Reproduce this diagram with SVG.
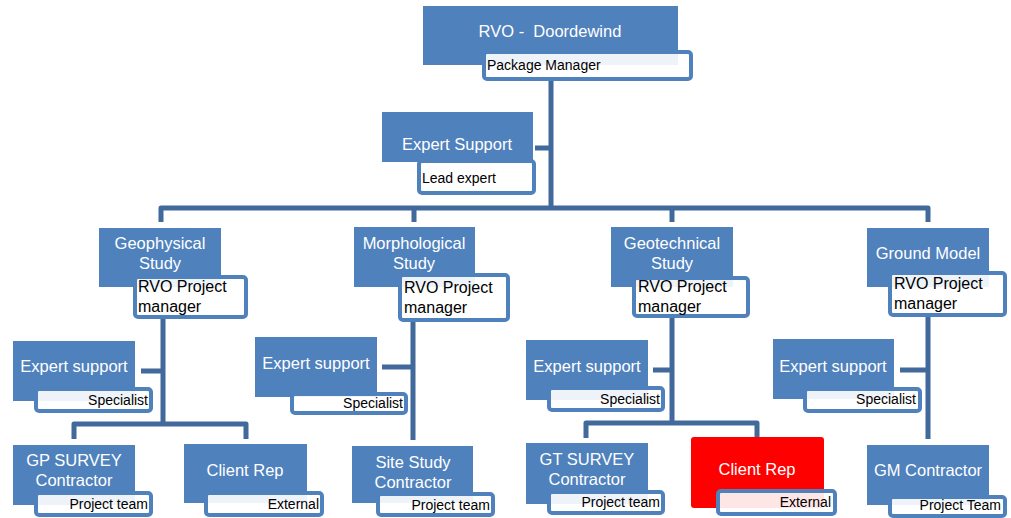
<svg xmlns="http://www.w3.org/2000/svg" width="1011" height="518" viewBox="0 0 1011 518">
<style>
.n{fill:#4F81BD}
.r{fill:#FF0000}
.s{fill:#FFFFFF;fill-opacity:0.9;stroke:#4F81BD;stroke-width:4}
.t{font-family:"Liberation Sans",Arial,sans-serif;font-size:16.5px;fill:#FFFFFF;text-anchor:middle}
.b{font-family:"Liberation Sans",Arial,sans-serif;font-size:16px;fill:#000000}
.m{font-family:"Liberation Sans",Arial,sans-serif;font-size:14px;fill:#000000}
.e{text-anchor:end}
.c{fill:none;stroke:#41699B;stroke-width:5;stroke-linejoin:round}
</style>
<rect width="1011" height="518" fill="#FFFFFF"/>
<g id="connectors">
<path class="c" d="M551 81V208M535 148H551M161 222V208H928V222M414 208V222M672 208V222"/>
<path class="c" d="M163 319V424M141 371H163M74 439V424H246V439"/>
<path class="c" d="M413 322V440M382 367H413"/>
<path class="c" d="M672 318V423M653 370H672M586 438V423H757V438"/>
<path class="c" d="M928 317V439M900 370H928"/>
</g>
<g id="top">
<rect class="n" x="423" y="6" width="255" height="59"/>
<text class="t" x="550" y="37" xml:space="preserve">RVO -  Doordewind</text>
<rect class="s" x="484" y="52" width="207" height="27" rx="3"/>
<text class="m" x="487" y="70">Package Manager</text>
</g>
<g id="expert-top">
<rect class="n" x="382" y="112" width="151" height="50"/>
<text class="t" x="457" y="150">Expert Support</text>
<rect class="s" x="419" y="161" width="115" height="32" rx="3"/>
<text class="m" x="422" y="183">Lead expert</text>
</g>
<g id="geophysical">
<rect class="n" x="99" y="228" width="122" height="59"/>
<text class="t" x="160" y="249">Geophysical</text>
<text class="t" x="160" y="269">Study</text>
<rect class="s" x="135" y="277" width="111" height="40" rx="3"/>
<text class="b" x="138" y="292">RVO Project</text>
<text class="b" x="138" y="312">manager</text>
</g>
<g id="morphological">
<rect class="n" x="354" y="227" width="121" height="60"/>
<text class="t" x="414" y="249">Morphological</text>
<text class="t" x="414" y="269">Study</text>
<rect class="s" x="400" y="275" width="108" height="45" rx="3"/>
<text class="b" x="404" y="293">RVO Project</text>
<text class="b" x="404" y="313">manager</text>
</g>
<g id="geotechnical">
<rect class="n" x="611" y="227" width="122" height="60"/>
<text class="t" x="672" y="249">Geotechnical</text>
<text class="t" x="672" y="269">Study</text>
<rect class="s" x="634" y="278" width="114" height="38" rx="3"/>
<text class="b" x="638" y="292">RVO Project</text>
<text class="b" x="638" y="312">manager</text>
</g>
<g id="groundmodel">
<rect class="n" x="867" y="228" width="122" height="59"/>
<text class="t" x="928" y="259">Ground Model</text>
<rect class="s" x="890" y="273" width="115" height="42" rx="3"/>
<text class="b" x="894" y="289">RVO Project</text>
<text class="b" x="894" y="309">manager</text>
</g>
<g id="geo-expert">
<rect class="n" x="13" y="341" width="122" height="60"/>
<text class="t" x="74" y="372">Expert support</text>
<rect class="s" x="36" y="389" width="115" height="22" rx="3"/>
<text class="m e" x="148" y="405">Specialist</text>
</g>
<g id="gp-survey">
<rect class="n" x="13" y="445" width="122" height="60"/>
<text class="t" x="74" y="466">GP SURVEY</text>
<text class="t" x="74" y="486">Contractor</text>
<rect class="s" x="36" y="493" width="115" height="22" rx="3"/>
<text class="m e" x="148" y="509">Project team</text>
</g>
<g id="geo-client">
<rect class="n" x="184" y="444" width="123" height="59"/>
<text class="t" x="245" y="476">Client Rep</text>
<rect class="s" x="206" y="493" width="116" height="22" rx="3"/>
<text class="m e" x="319" y="509">External</text>
</g>
<g id="morph-expert">
<rect class="n" x="255" y="337" width="122" height="60"/>
<text class="t" x="316" y="369">Expert support</text>
<rect class="s" x="292" y="394" width="114" height="19" rx="3"/>
<text class="m e" x="403" y="408">Specialist</text>
</g>
<g id="site-study">
<rect class="n" x="352" y="446" width="121" height="57"/>
<text class="t" x="413" y="468">Site Study</text>
<text class="t" x="413" y="488">Contractor</text>
<rect class="s" x="378" y="494" width="115" height="21" rx="3"/>
<text class="m e" x="490" y="510">Project team</text>
</g>
<g id="geotech-expert">
<rect class="n" x="526" y="340" width="122" height="60"/>
<text class="t" x="587" y="372">Expert support</text>
<rect class="s" x="549" y="388" width="114" height="22" rx="3"/>
<text class="m e" x="660" y="404">Specialist</text>
</g>
<g id="gt-survey">
<rect class="n" x="526" y="443" width="122" height="61"/>
<text class="t" x="587" y="465">GT SURVEY</text>
<text class="t" x="587" y="485">Contractor</text>
<rect class="s" x="549" y="492" width="114" height="21" rx="3"/>
<text class="m e" x="660" y="507">Project team</text>
</g>
<g id="geotech-client">
<rect class="r" x="691" y="437" width="133" height="71" rx="3"/>
<text class="t" x="757" y="475">Client Rep</text>
<rect class="s" x="718" y="491" width="117" height="23" rx="3"/>
<text class="m e" x="831" y="507">External</text>
</g>
<g id="gm-expert">
<rect class="n" x="773" y="339" width="121" height="60"/>
<text class="t" x="833" y="372">Expert support</text>
<rect class="s" x="805" y="389" width="115" height="22" rx="3"/>
<text class="m e" x="916" y="404">Specialist</text>
</g>
<g id="gm-contractor">
<rect class="n" x="867" y="445" width="122" height="60"/>
<text class="t" x="928" y="476">GM Contractor</text>
<rect class="s" x="890" y="497" width="115" height="19" rx="3"/>
<text class="m e" x="1001" y="510">Project Team</text>
</g>
</svg>
